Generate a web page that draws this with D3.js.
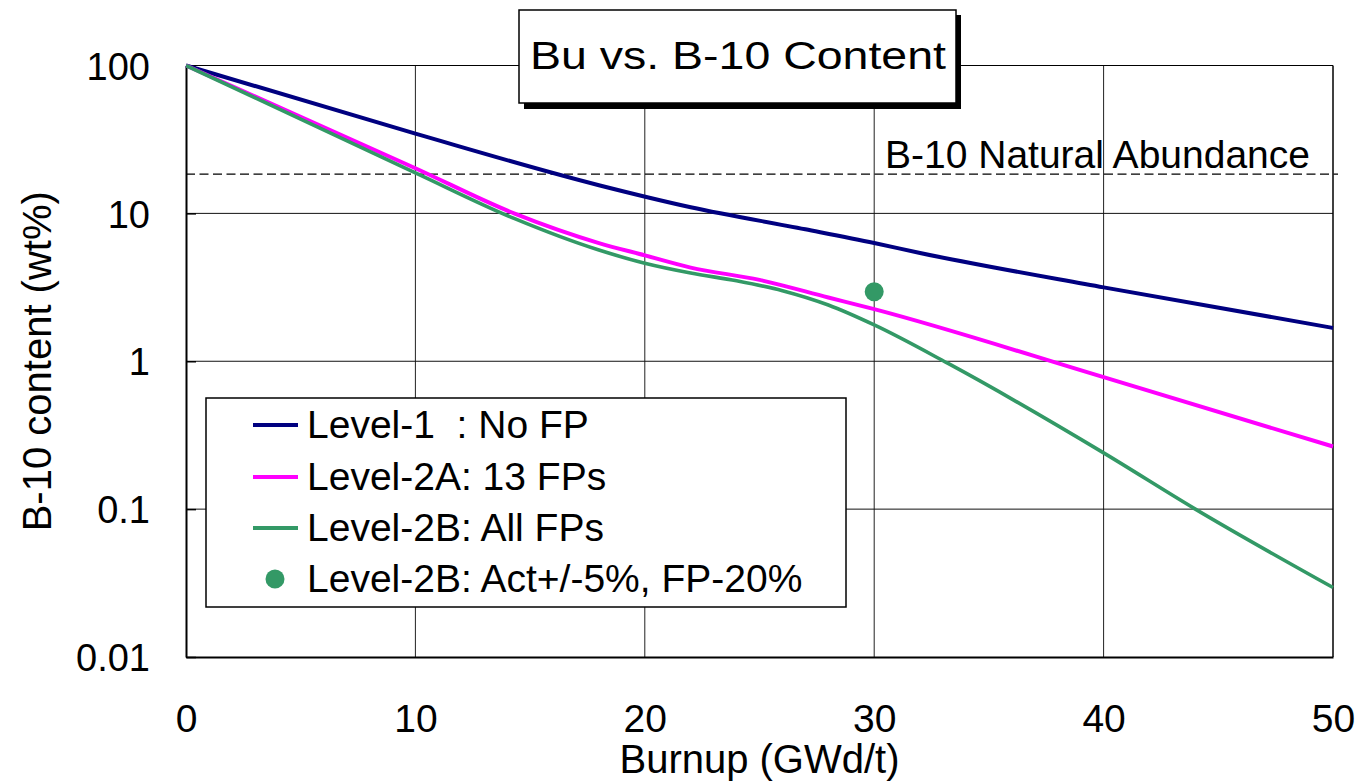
<!DOCTYPE html>
<html>
<head>
<meta charset="utf-8">
<script src="https://cdn.jsdelivr.net/npm/d3@7"></script>
<style>
  html, body { margin: 0; padding: 0; background: #fff; }
  svg { display: block; font-family: "Liberation Sans", Arial, sans-serif; }
  text { white-space: pre; }
</style>
</head>
<body>
<svg id="chart" width="1363" height="782"></svg>
<script>
// ---- data ----
const level1Burnup  = [0, 10, 18, 22, 27, 30, 32, 40, 50];
const level1Values  = [100, 34.6, 15.5, 11, 7.8, 6.3, 5.4, 3.16, 1.68];

const level2ABurnup = [0, 10, 14.3, 18, 20, 22, 25, 28, 30, 40, 50];
const level2AValues = [100, 20.2, 10, 6.3, 5.2, 4.3, 3.55, 2.7, 2.25, 0.78, 0.265];

const level2BBurnup = [0, 10, 14.3, 18, 20, 22, 24, 26, 28, 30, 33.2, 40, 44, 50];
const level2BValues = [100, 18.8, 9.25, 5.65, 4.6, 3.95, 3.5, 3.0, 2.4, 1.76, 0.97, 0.24, 0.1, 0.0295];

const pointBurnup = [30];
const pointValues = [2.95];

const naturalAbundance = 18.4;

const xTicks = [0, 10, 20, 30, 40, 50];
const yTicks = [100, 10, 1, 0.1, 0.01];
const yTickLabels = ["100", "10", "1", "0.1", "0.01"];

const seriesNames = ["Level-1  : No FP", "Level-2A: 13 FPs", "Level-2B: All FPs", "Level-2B: Act+/-5%, FP-20%"];
const seriesColors = ["#000080", "#ff00ff", "#339966", "#339966"];

// ---- chart ----
const svg = d3.select("#chart");
const L = 186, R = 1333, T = 65.5, B = 657;

const x = d3.scaleLinear().domain([0, 50]).range([L, R]);
const y = d3.scaleLog().domain([0.01, 100]).range([B, T]);

// grid
const grid = svg.append("g");
grid.selectAll("line.v").data(xTicks.filter(d => d > 0 && d < 50)).enter().append("line")
  .attr("x1", d => x(d)).attr("x2", d => x(d)).attr("y1", T).attr("y2", B)
  .attr("stroke", "#222").attr("stroke-width", 1);
grid.selectAll("line.h").data(yTicks.filter(d => d > 0.01 && d < 100)).enter().append("line")
  .attr("x1", L).attr("x2", R).attr("y1", d => y(d)).attr("y2", d => y(d))
  .attr("stroke", "#111").attr("stroke-width", 1);

// frame
svg.append("line").attr("x1", L).attr("x2", R).attr("y1", T).attr("y2", T).attr("stroke", "#000").attr("stroke-width", 1.2);
svg.append("line").attr("x1", R).attr("x2", R).attr("y1", T).attr("y2", B).attr("stroke", "#000").attr("stroke-width", 1.5);

// natural abundance dashed line
svg.append("line")
  .attr("x1", x(0)).attr("x2", x(50) + 5)
  .attr("y1", y(naturalAbundance)).attr("y2", y(naturalAbundance))
  .attr("stroke", "#000").attr("stroke-width", 1.2).attr("stroke-dasharray", "9,4.5");
svg.append("text").attr("x", 885).attr("y", y(naturalAbundance) - 6)
  .attr("font-size", 39).attr("fill", "#000").text("B-10 Natural Abundance");

// axes
const xAxis = d3.axisBottom(x).tickValues(xTicks).tickSize(0).tickPadding(0).tickFormat(d3.format("d"));
const gx = svg.append("g").attr("transform", `translate(0,${B})`).call(xAxis);
gx.select(".domain").attr("stroke", "#000").attr("stroke-width", 2);
gx.selectAll("text").attr("font-size", 39).attr("font-family", "Liberation Sans, Arial, sans-serif")
  .attr("fill", "#000").attr("dy", null).attr("y", 75);

const yAxis = d3.axisLeft(y).tickValues(yTicks).tickSizeInner(-10).tickSizeOuter(0).tickPadding(0)
  .tickFormat((d, i) => yTickLabels[i]);
const gy = svg.append("g").attr("transform", `translate(${L},0)`).call(yAxis);
gy.select(".domain").attr("stroke", "#000").attr("stroke-width", 2);
gy.selectAll(".tick line").attr("stroke", "#000").attr("stroke-width", 1.5);
gy.selectAll("text").attr("font-size", 38).attr("font-family", "Liberation Sans, Arial, sans-serif")
  .attr("fill", "#000").attr("x", -36).attr("dy", "0.36em");

// axis titles
svg.append("text").attr("x", (L + R) / 2).attr("y", 773).attr("text-anchor", "middle")
  .attr("font-size", 40).attr("fill", "#000").text("Burnup (GWd/t)");
svg.append("text").attr("transform", `translate(51,${(T + B) / 2}) rotate(-90)`)
  .attr("text-anchor", "middle").attr("font-size", 40).attr("fill", "#000").text("B-10 content (wt%)");

// lines
const line = d3.line().x(d => x(d[0])).y(d => y(d[1])).curve(d3.curveMonotoneX);
const series = [
  { b: level1Burnup, v: level1Values, c: seriesColors[0], w: 4 },
  { b: level2ABurnup, v: level2AValues, c: seriesColors[1], w: 4 },
  { b: level2BBurnup, v: level2BValues, c: seriesColors[2], w: 3.6 }
];
series.forEach(s => {
  svg.append("path").datum(s.b.map((b, i) => [b, s.v[i]]))
    .attr("d", line).attr("fill", "none").attr("stroke", s.c).attr("stroke-width", s.w)
    .attr("stroke-linejoin", "round");
});
svg.selectAll("circle.pt").data(pointBurnup.map((b, i) => [b, pointValues[i]])).enter().append("circle")
  .attr("cx", d => x(d[0])).attr("cy", d => y(d[1])).attr("r", 9.5).attr("fill", seriesColors[3]);

// title box
svg.append("rect").attr("x", 524).attr("y", 15).attr("width", 437).attr("height", 94).attr("fill", "#000");
svg.append("rect").attr("x", 519).attr("y", 10).attr("width", 437).attr("height", 93)
  .attr("fill", "#fff").attr("stroke", "#000").attr("stroke-width", 1.5);
svg.append("text").attr("x", 530).attr("y", 69).attr("font-size", 38)
  .attr("textLength", 416).attr("lengthAdjust", "spacingAndGlyphs").attr("fill", "#000")
  .text("Bu vs. B-10 Content");

// legend
const lg = svg.append("g");
lg.append("rect").attr("x", 206).attr("y", 398).attr("width", 640).attr("height", 209)
  .attr("fill", "#fff").attr("stroke", "#000").attr("stroke-width", 1.5);
const rowBase = [438, 490, 541, 592];
seriesNames.forEach((name, i) => {
  const cy = rowBase[i] - 13;
  if (i < 3) {
    lg.append("line").attr("x1", 253).attr("x2", 298).attr("y1", cy).attr("y2", cy)
      .attr("stroke", seriesColors[i]).attr("stroke-width", 4);
  } else {
    lg.append("circle").attr("cx", 275).attr("cy", cy).attr("r", 9.5).attr("fill", seriesColors[i]);
  }
  lg.append("text").attr("x", 307).attr("y", rowBase[i]).attr("font-size", 39)
    .attr("fill", "#000").text(name);
});
</script>
</body>
</html>
